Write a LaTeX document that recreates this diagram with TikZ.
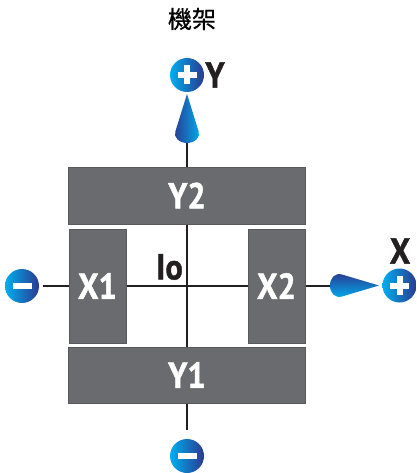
\documentclass[tikz,border=0pt]{standalone}
\usepackage{xcolor}
\usepackage{fontspec}
\setmainfont{PT Sans}
\newfontfamily\labelfont[FakeStretch=0.9, FakeBold=1.2]{PT Sans Bold}
\newfontfamily\cjkfont[FakeBold=0.6]{Noto Sans CJK TC}

\definecolor{boxgray}{HTML}{6A6B6E}
\definecolor{boxedge}{HTML}{58595B}
\definecolor{linedark}{HTML}{231F20}
\definecolor{bluedark}{HTML}{2B3990}
\definecolor{bluelight}{HTML}{00AEEF}

\tikzset{
  axisbox/.style={draw=boxedge, line width=1pt, fill=boxgray, inner sep=0pt, text=white, font=\labelfont\fontsize{36}{36}\selectfont},
  axisline/.style={color=linedark, line width=2.7pt},
  axislabel/.style={text=linedark, inner sep=0pt, font=\labelfont\fontsize{36}{36}\selectfont},
  signdot/.style={circle, minimum size=34pt, inner sep=0pt, left color=bluelight, right color=bluedark},
  plusdot/.style={signdot, path picture={
    \fill[white] ([shift={(-9.5pt,-3pt)}]path picture bounding box.center) rectangle ++(19pt,6pt);
    \fill[white] ([shift={(-3pt,-9.5pt)}]path picture bounding box.center) rectangle ++(6pt,19pt);}},
  minusdot/.style={signdot, path picture={
    \fill[white] ([shift={(-9.5pt,-2.75pt)}]path picture bounding box.center) rectangle ++(19pt,5.5pt);}},
}

\begin{document}
\begin{tikzpicture}[x=1pt, y=-1pt]
\useasboundingbox (0,0) rectangle (416,473);

\node[axisbox, minimum width=237pt, minimum height=57pt] at (187,195.5) (y2) {Y2};
\node[axisbox, minimum width=237pt, minimum height=56pt] at (187,375) (y1) {Y1};
\node[axisbox, minimum width=57pt, minimum height=114pt] at (97.5,286) (x1) {X1};
\node[axisbox, minimum width=57pt, minimum height=114pt] at (276.5,286) (x2) {X2};

\node[plusdot] at (187,75) (yplus) {};
\node[plusdot] at (399.5,285.5) (xplus) {};
\node[minusdot] at (22,286) (xminus) {};
\node[minusdot] at (187,456) (yminus) {};

\node[axislabel] at (215,75) (ylabel) {Y};
\node[axislabel] at (400,251) (xlabel) {X};
\node[axislabel] at (169.5,267) (iolabel) {Io};
\node[inner sep=0pt, text=black, font=\cjkfont\fontsize{24}{24}\selectfont] at (192,19) (title) {機架};

\coordinate (ycone) at (187,142);
\coordinate (xcone) at (331,286);
\coordinate (xfree) at (42.5,286);
\coordinate (yfree) at (187,430);

% cross in the middle
\draw[axisline] (x1.east) -- (x2.west);
\draw[axisline] (y2.south) -- (y1.north);

\draw[axisline] (ycone) -- (y2.north);
\draw[axisline] (x2.east) -- (xcone);
\draw[axisline] (xfree) -- (x1.west);
\draw[axisline] (y1.south) -- (yfree);

% cones
\shade[left color=bluedark, right color=bluelight] (187,94) -- (198.5,131) .. controls (201,137) and (195,143) .. (187,143) .. controls (179,143) and (173,137) .. (175.5,131) -- cycle;
\shade[top color=bluedark, bottom color=bluelight] (379,285.5) -- (342,296.5) .. controls (335,298.5) and (330,293) .. (330,285.5) .. controls (330,278) and (335,272.5) .. (342,274.5) -- cycle;

\end{tikzpicture}
\end{document}
